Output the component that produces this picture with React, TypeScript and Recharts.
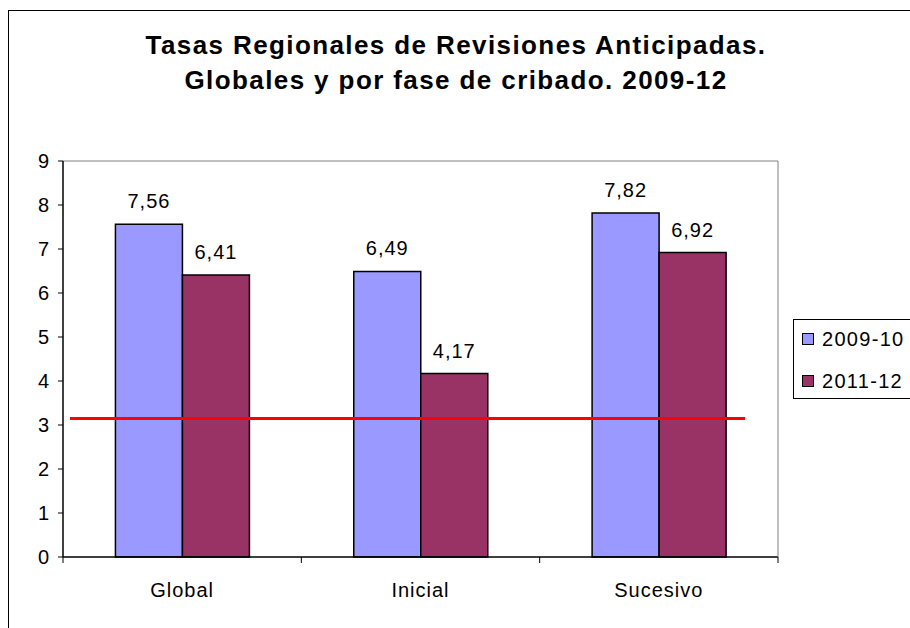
import React from 'react';
import { BarChart, Bar, XAxis, YAxis, LabelList, ReferenceLine } from 'recharts';

const categories = ['Global', 'Inicial', 'Sucesivo'];
const serie2009 = [7.56, 6.49, 7.82];
const serie2011 = [6.41, 4.17, 6.92];
const yTicks = [0, 1, 2, 3, 4, 5, 6, 7, 8, 9];
const referenceValue = 3.15;

const SERIES = [
    { key: 'a', name: '2009-10', color: '#9999FF' },
    { key: 'b', name: '2011-12', color: '#993366' },
];

const FONT = '"Liberation Sans", Arial, sans-serif';
const TEXT = { fill: '#000', fontSize: 20, fontFamily: FONT, letterSpacing: 1 };
const X_TICK_SIZE = 6;
const X_TICK_MARGIN = 20;

const chartData = categories.map((name, i) => ({ name, a: serie2009[i], b: serie2011[i] }));

const fmt = (v: number) => v.toFixed(2).replace('.', ',');

// Excel style: tick marks between categories, label in the middle
const CategoryTick = (p: any) => {
    const band = p.width / p.visibleTicksCount;
    const axisY = p.y - X_TICK_SIZE - X_TICK_MARGIN;
    const left = p.x - band / 2;
    return (
        <g>
            <line x1={left} y1={axisY} x2={left} y2={axisY + 6} stroke="#000" />
            {p.index === p.visibleTicksCount - 1 && (
                <line x1={left + band} y1={axisY} x2={left + band} y2={axisY + 6} stroke="#000" />
            )}
            <text x={p.x} y={p.y} dy="0.71em" textAnchor="middle" style={TEXT}>{p.payload.value}</text>
        </g>
    );
};

// the red line in the source starts a bit inside the plot and stops before the right edge
const RedLine = (p: any) => (
    <line x1={p.x1 + 7} y1={p.y1} x2={p.x2 - 33} y2={p.y2} stroke="#FF0000" strokeWidth={3} />
);

const LegendBox = () => (
    <div style={{ position: 'absolute', left: 793, top: 319, width: 140, height: 78, border: '1px solid #000', background: '#fff', fontFamily: FONT, fontSize: 20, letterSpacing: 1.3 }}>
        {SERIES.map((s, i) => (
            <div key={s.key} style={{ position: 'absolute', left: 8, top: 8 + i * 42, display: 'flex', alignItems: 'center', height: 22 }}>
                <span style={{ width: 10, height: 10, border: '1px solid #000', background: s.color, marginRight: 8 }} />
                <span>{s.name}</span>
            </div>
        ))}
    </div>
);

export default function App() {
    return (
        <div style={{ position: 'absolute', left: 0, top: 0, width: 910, height: 628, overflow: 'hidden', background: '#fff' }}>
            <div style={{ position: 'absolute', left: 8, top: 10, width: 1000, height: 1000, borderLeft: '1px solid #000', borderTop: '1px solid #000' }} />
            <div style={{ position: 'absolute', left: 0, top: 28, width: 912, textAlign: 'center', fontFamily: FONT, fontWeight: 'bold', fontSize: 26, letterSpacing: 1.4, lineHeight: '35px' }}>
                Tasas Regionales de Revisiones Anticipadas.
                <br />
                Globales y por fase de cribado. 2009-12
            </div>
            <div style={{ position: 'absolute', left: 0, top: 0 }}>
                <BarChart width={910} height={628} data={chartData} margin={{ top: 160, right: 131, bottom: 30, left: 0 }} barGap={0} barCategoryGap="22%">
                    <XAxis xAxisId="cat" dataKey="name" height={41} tickLine={false} tickSize={X_TICK_SIZE} tickMargin={X_TICK_MARGIN} axisLine={{ stroke: '#000', strokeWidth: 1.5 }} tick={CategoryTick} interval={0} />
                    <XAxis xAxisId="top" orientation="top" type="number" domain={[0, 1]} height={1} tick={false} tickLine={false} axisLine={{ stroke: '#808080' }} />
                    <YAxis domain={[0, 9]} ticks={yTicks} width={63} interval={0} tickSize={5} tickMargin={8} axisLine={{ stroke: '#000', strokeWidth: 1.5 }} tickLine={{ stroke: '#000' }} tick={TEXT} />
                    <YAxis yAxisId="r" orientation="right" domain={[0, 9]} width={1} tick={false} tickLine={false} axisLine={{ stroke: '#808080' }} />
                    {SERIES.map(s => (
                        <Bar key={s.key} xAxisId="cat" dataKey={s.key} name={s.name} fill={s.color} stroke="#000" strokeWidth={1.5} isAnimationActive={false}>
                            <LabelList dataKey={s.key} position="top" offset={16} formatter={(v: any) => fmt(Number(v))} style={TEXT} />
                        </Bar>
                    ))}
                    <ReferenceLine y={referenceValue} xAxisId="cat" stroke="#FF0000" strokeWidth={3} shape={RedLine} />
                </BarChart>
            </div>
            <LegendBox />
        </div>
    );
}
